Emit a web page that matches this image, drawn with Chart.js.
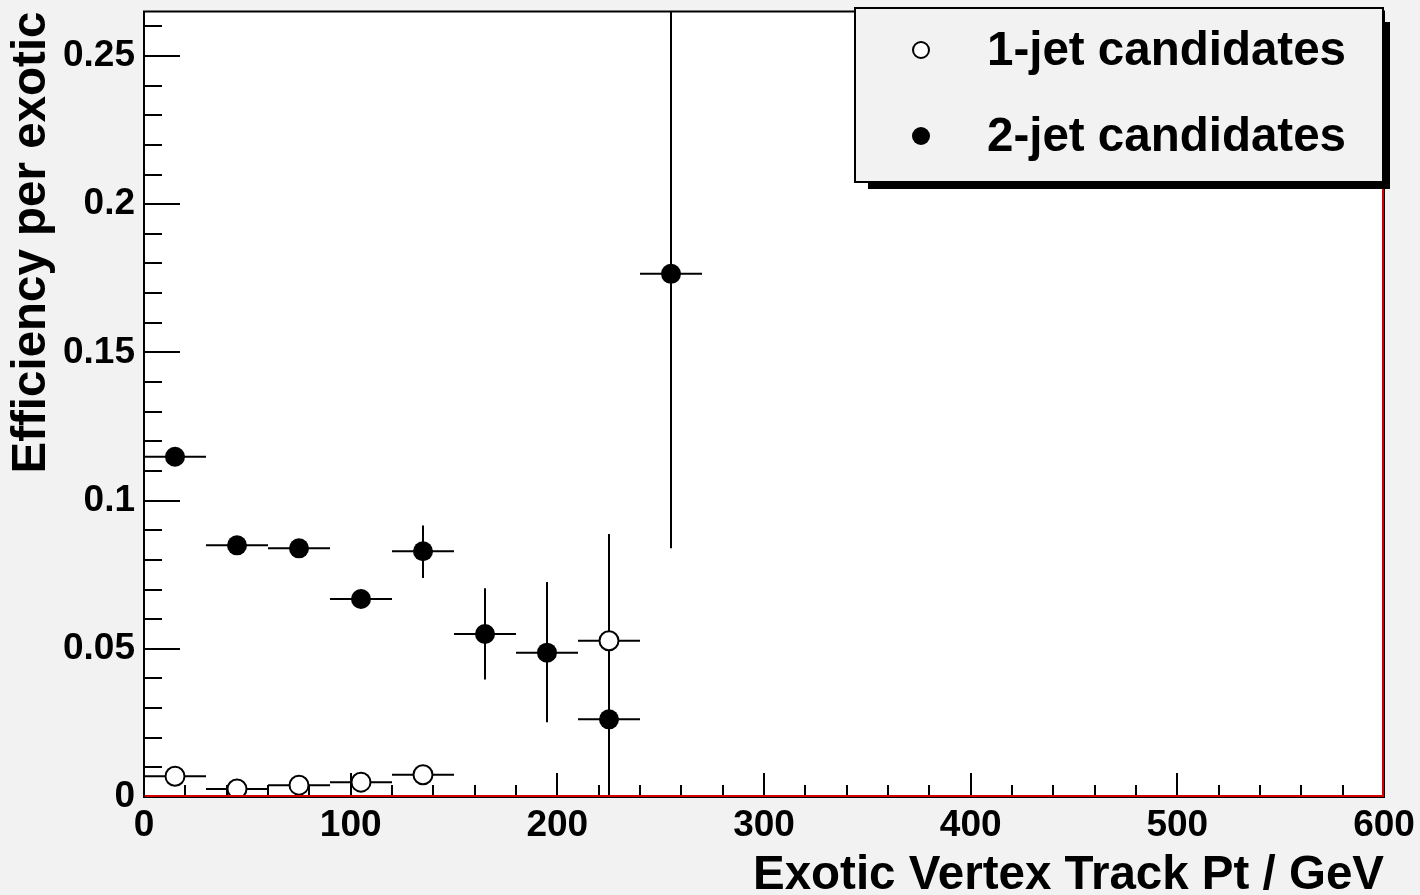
<!DOCTYPE html>
<html lang="en">
  <head>
    <meta charset="UTF-8" />
    <title>Efficiency per exotic</title>
    <script src="https://cdn.jsdelivr.net/npm/chart.js"></script>
    <style>
      body {
        margin: 0;
        background: #f2f2f2;
      }
      .canvas {
        width: 1420px;
        height: 895px;
      }
    </style>
  </head>
  <body>
    <div class="canvas">
      <canvas id="myChart"></canvas>
    </div>
    <script>
      // bins of 30 GeV, centres
      let binCenters = [15, 45, 75, 105, 135, 165, 195, 225, 255];
      let binHalfWidth = [15, 15, 15, 15, 15, 15, 15, 15, 15];

      let seriesNames = ["1-jet candidates", "2-jet candidates"];

      let oneJetEff = [0.007, 0.0027, 0.004, 0.005, 0.0075, null, null, 0.0527, null];
      let oneJetErrLow = [0.001, 0.001, 0.001, 0.001, 0.001, null, null, 0.03, null];
      let oneJetErrHigh = [0.001, 0.001, 0.001, 0.001, 0.001, null, null, 0.036, null];

      let twoJetEff = [0.1148, 0.0849, 0.0839, 0.0668, 0.0829, 0.055, 0.0487, 0.0262, 0.1765];
      let twoJetErrLow = [0.002, 0.001, 0.001, 0.003, 0.009, 0.0154, 0.0235, 0.0262, 0.0926];
      let twoJetErrHigh = [0.002, 0.001, 0.001, 0.003, 0.0087, 0.0154, 0.0238, 0.0262, 0.0926];

      let xTickLabels = [0, 100, 200, 300, 400, 500, 600];
      let yTickLabels = [0, 0.05, 0.1, 0.15, 0.2, 0.25];

      function points(values, low, high) {
        let out = [];
        values.forEach((v, i) => {
          if (v === null) return;
          out.push({ x: binCenters[i], y: v, xe: binHalfWidth[i], lo: low[i], hi: high[i] });
        });
        return out;
      }

      const boldFont = '"Liberation Sans", Arial, Helvetica, sans-serif';

      // grey pad + white frame
      const background = {
        id: "background",
        beforeDraw(chart) {
          const { ctx, chartArea: a } = chart;
          ctx.save();
          ctx.fillStyle = "#f2f2f2";
          ctx.fillRect(0, 0, chart.width, chart.height);
          ctx.fillStyle = "#ffffff";
          ctx.fillRect(a.left, a.top, a.right - a.left, a.bottom - a.top);
          ctx.restore();
        },
      };

      // error bars, drawn before the markers
      const errorBars = {
        id: "errorBars",
        beforeDatasetsDraw(chart) {
          const { ctx, chartArea: a, scales } = chart;
          const xs = scales.x, ys = scales.y;
          ctx.save();
          ctx.beginPath();
          ctx.rect(a.left, a.top, a.right - a.left, a.bottom - a.top);
          ctx.clip();
          ctx.strokeStyle = "#000";
          ctx.lineWidth = 2;
          chart.data.datasets.forEach((ds) => {
            ds.data.forEach((p) => {
              const px = xs.getPixelForValue(p.x);
              const py = ys.getPixelForValue(p.y);
              ctx.beginPath();
              ctx.moveTo(xs.getPixelForValue(p.x - p.xe), py);
              ctx.lineTo(xs.getPixelForValue(p.x + p.xe), py);
              ctx.moveTo(px, ys.getPixelForValue(p.y - p.lo));
              ctx.lineTo(px, ys.getPixelForValue(p.y + p.hi));
              ctx.stroke();
            });
          });
          ctx.restore();
        },
      };

      // ROOT style frame and inner ticks
      const frame = {
        id: "frame",
        afterDatasetsDraw(chart) {
          const { ctx, chartArea: a, scales } = chart;
          const xs = scales.x, ys = scales.y;
          ctx.save();
          ctx.strokeStyle = "#000";
          ctx.lineWidth = 2;
          ctx.beginPath();
          for (let v = 0; v <= 600.001; v += 20) {
            const px = Math.round(xs.getPixelForValue(v));
            const len = v % 100 === 0 ? 24 : 12;
            ctx.moveTo(px, a.bottom);
            ctx.lineTo(px, a.bottom - len);
          }
          for (let i = 0; i <= 26; i++) {
            const py = Math.round(ys.getPixelForValue(i * 0.01));
            const len = i % 5 === 0 ? 36 : 18;
            ctx.moveTo(a.left, py);
            ctx.lineTo(a.left + len, py);
          }
          ctx.stroke();
          ctx.strokeRect(a.left, a.top, a.right - a.left, a.bottom - a.top);
          ctx.strokeStyle = "#d40000";
          ctx.beginPath();
          ctx.moveTo(a.left + 1, a.bottom - 1);
          ctx.lineTo(a.right - 1, a.bottom - 1);
          ctx.lineTo(a.right - 1, a.top);
          ctx.stroke();
          ctx.restore();
        },
      };

      // legend box with shadow
      const rootLegend = {
        id: "rootLegend",
        afterDraw(chart) {
          const { ctx } = chart;
          const x1 = 855, y1 = 8, x2 = 1383, y2 = 182;
          ctx.save();
          ctx.fillStyle = "#000";
          ctx.fillRect(x2, y1 + 14, 7, y2 - y1 - 7);
          ctx.fillRect(x1 + 13, y2, x2 - x1 - 6, 7);
          ctx.fillStyle = "#f2f2f2";
          ctx.fillRect(x1, y1, x2 - x1, y2 - y1);
          ctx.strokeStyle = "#000";
          ctx.lineWidth = 2;
          ctx.strokeRect(x1, y1, x2 - x1, y2 - y1);
          const rows = [50, 136];
          chart.data.datasets.forEach((ds, i) => {
            ctx.beginPath();
            ctx.arc(921, rows[i], i === 0 ? 8 : 9, 0, Math.PI * 2);
            if (i === 0) {
              ctx.fillStyle = "#fff";
              ctx.fill();
              ctx.lineWidth = 2;
              ctx.stroke();
            } else {
              ctx.fillStyle = "#000";
              ctx.fill();
            }
            ctx.fillStyle = "#000";
            ctx.font = "bold 47.5px " + boldFont;
            ctx.textBaseline = "middle";
            ctx.textAlign = "left";
            ctx.fillText(ds.label, 987, rows[i] + 2);
          });
          ctx.restore();
        },
      };

      function chart() {
        const ctx = document.getElementById("myChart");

        new Chart(ctx, {
          type: "scatter",
          data: {
            datasets: [
              {
                label: seriesNames[0],
                data: points(oneJetEff, oneJetErrLow, oneJetErrHigh),
                pointRadius: 9.5,
                pointHoverRadius: 9.5,
                borderWidth: 2,
                borderColor: "#000",
                backgroundColor: "#fff",
              },
              {
                label: seriesNames[1],
                data: points(twoJetEff, twoJetErrLow, twoJetErrHigh),
                pointRadius: 10,
                pointHoverRadius: 10,
                borderWidth: 0,
                borderColor: "#000",
                backgroundColor: "#000",
              },
            ],
          },
          options: {
            responsive: true,
            maintainAspectRatio: false,
            animation: false,
            layout: { padding: { top: 8, right: 36, left: 0, bottom: 0 } },
            plugins: {
              legend: { display: false },
              tooltip: { enabled: false },
            },
            scales: {
              x: {
                type: "linear",
                min: 0,
                max: 600,
                afterFit: (s) => {
                  s.height = 98;
                  s.paddingLeft = 0;
                  s.paddingRight = 0;
                },
                afterBuildTicks: (s) => { s.ticks = xTickLabels.map((v) => ({ value: v })); },
                grid: { display: false, drawTicks: false },
                border: { display: false },
                ticks: {
                  padding: 7,
                  maxRotation: 0,
                  autoSkip: false,
                  color: "#000",
                  font: { family: boldFont, size: 37, weight: "bold" },
                },
                title: {
                  display: true,
                  text: "Exotic Vertex Track Pt / GeV",
                  align: "end",
                  color: "#000",
                  padding: { top: 0, bottom: -5 },
                  font: { family: boldFont, size: 47.5, weight: "bold", lineHeight: 1 },
                },
              },
              y: {
                type: "linear",
                min: 0,
                max: 0.265,
                afterFit: (s) => {
                  s.width = 144;
                  s.paddingTop = 0;
                  s.paddingBottom = 0;
                },
                afterBuildTicks: (s) => { s.ticks = yTickLabels.map((v) => ({ value: v })); },
                grid: { display: false, drawTicks: false },
                border: { display: false },
                ticks: {
                  padding: 9,
                  autoSkip: false,
                  color: "#000",
                  font: { family: boldFont, size: 37, weight: "bold" },
                  callback: (v) => String(parseFloat(Number(v).toFixed(2))),
                },
                title: {
                  display: true,
                  text: "Efficiency per exotic",
                  align: "end",
                  color: "#000",
                  padding: { top: 8, bottom: 0 },
                  font: { family: boldFont, size: 47.5, weight: "bold", lineHeight: 1 },
                },
              },
            },
          },
          plugins: [background, errorBars, frame, rootLegend],
        });
      }

      chart();
    </script>
  </body>
</html>
